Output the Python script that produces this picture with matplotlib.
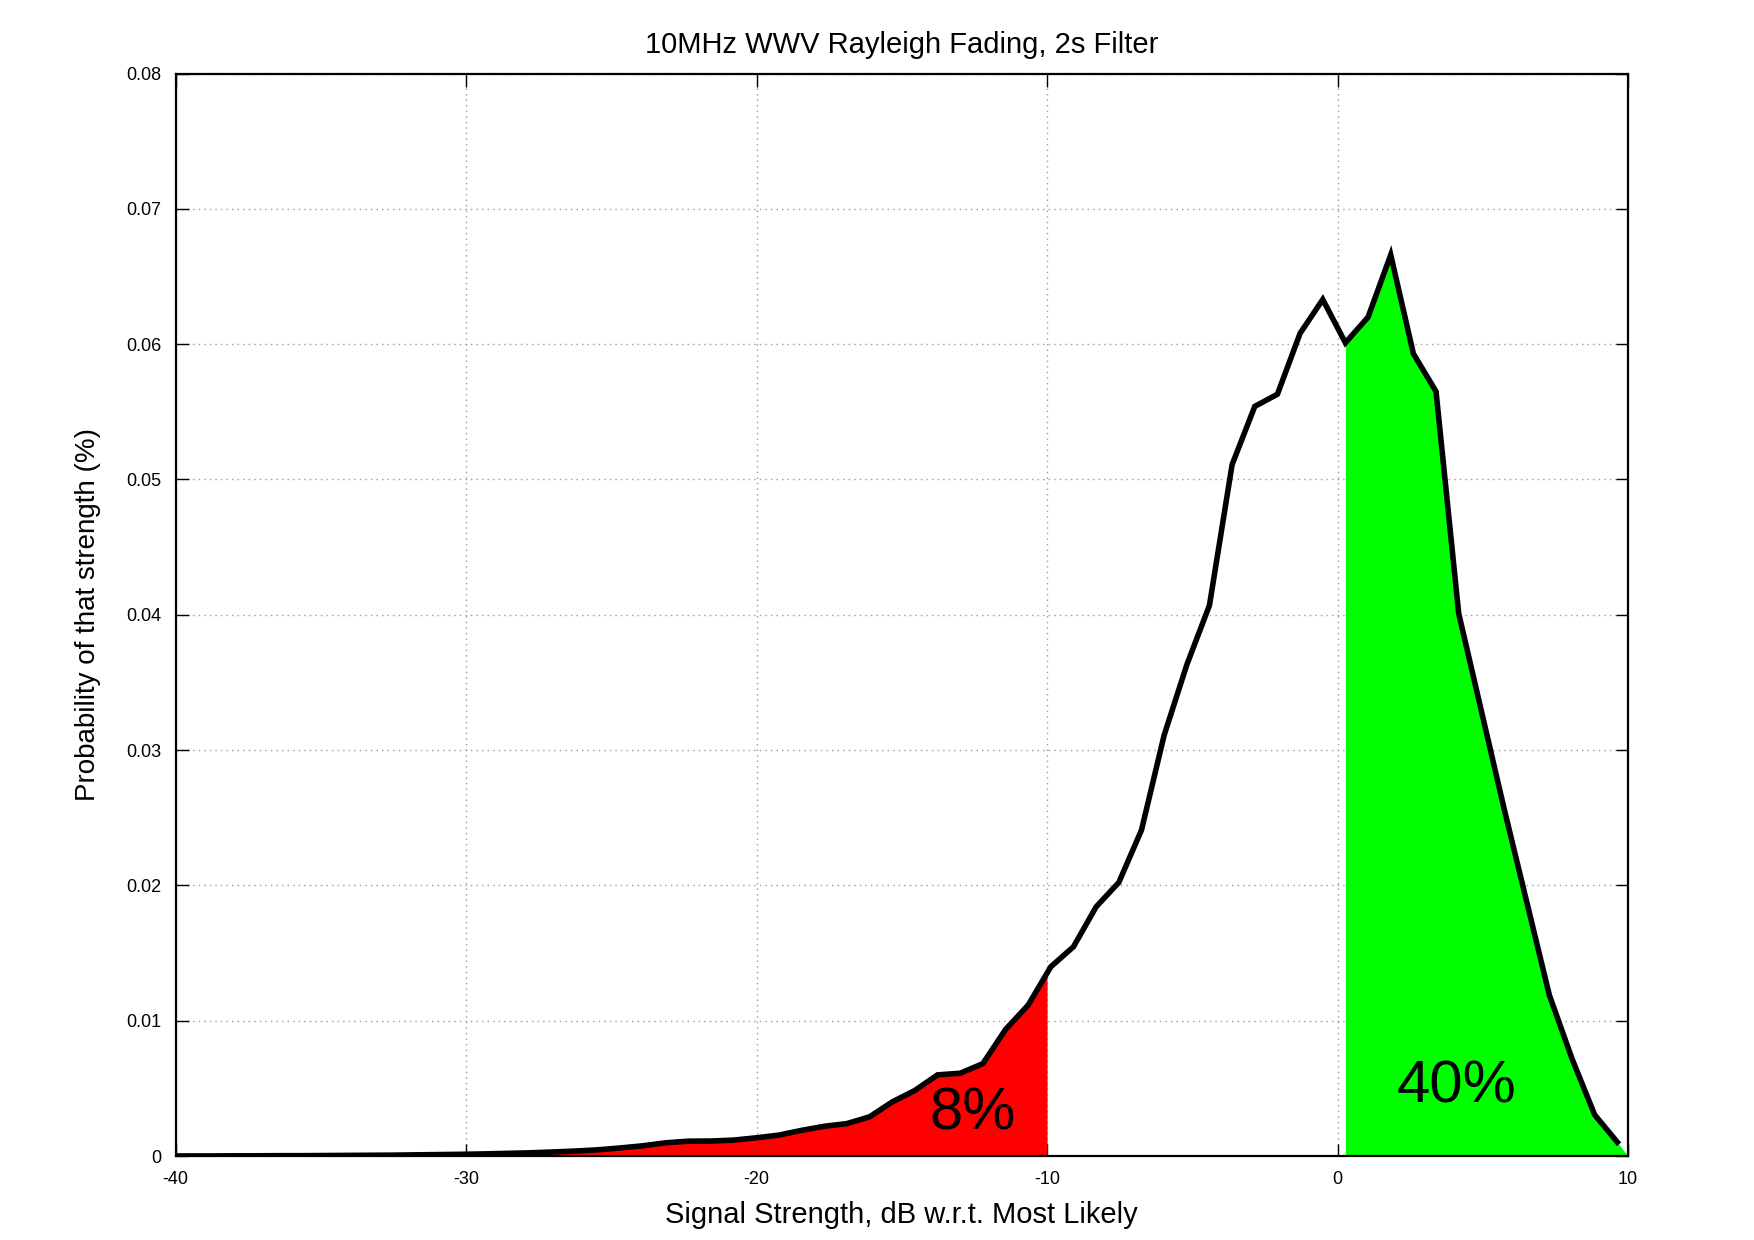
import numpy as np
import matplotlib
matplotlib.use("Agg")
import matplotlib.pyplot as plt

plt.rcParams['font.family'] = ['Liberation Sans', 'DejaVu Sans']

title = "10MHz WWV Rayleigh Fading, 2s Filter"
xlabel = "Signal Strength, dB w.r.t. Most Likely"
ylabel = "Probability of that strength (%)"

signal_db = [-40.29, -39.51, -38.73, -37.95, -37.17, -36.39, -35.61, -34.83, -34.05, -33.27, -32.49,
             -31.71, -30.93, -30.15, -29.37, -28.59, -27.81, -27.03, -26.25, -25.47, -24.69,
             -23.91, -23.13, -22.35, -21.57, -20.79, -20.01, -19.23, -18.45, -17.67, -16.89,
             -16.11, -15.33, -14.55, -13.77, -12.99, -12.21, -11.43, -10.65, -9.87, -9.09,
             -8.31, -7.53, -6.75, -5.97, -5.19, -4.41, -3.63, -2.85, -2.07, -1.29,
             -0.51, 0.27, 1.05, 1.83, 2.61, 3.39, 4.17, 4.95, 5.73, 6.51,
             7.29, 8.07, 8.85, 9.63]
probability = [0.00001, 0.00001, 0.00001, 0.00002, 0.00002, 0.00003, 0.00003, 0.00004, 0.00005, 0.00006, 0.00007,
               0.00009, 0.00011, 0.00013, 0.00016, 0.00020, 0.00024, 0.00030, 0.00037, 0.00046, 0.00060,
               0.00076, 0.00098, 0.00110, 0.00111, 0.00118, 0.00135, 0.00155, 0.00190, 0.00220, 0.00240,
               0.00290, 0.00400, 0.00485, 0.00600, 0.00612, 0.00683, 0.00935, 0.01116, 0.01399, 0.01547,
               0.01842, 0.02022, 0.02409, 0.03110, 0.03630, 0.04070, 0.05110, 0.05540, 0.05630, 0.06080,
               0.06330, 0.06010, 0.06200, 0.06660, 0.05930, 0.05650, 0.04010, 0.03290, 0.02570, 0.01880,
               0.01190, 0.00720, 0.00305, 0.00103]

x_ticks = [-40, -30, -20, -10, 0, 10]
y_ticks = [0, 0.01, 0.02, 0.03, 0.04, 0.05, 0.06, 0.07, 0.08]
y_ticklabels = ["0", "0.01", "0.02", "0.03", "0.04", "0.05", "0.06", "0.07", "0.08"]

low_cut = -10      # red region: below this
high_cut = 0       # green region: above this
low_label = "8%"
high_label = "40%"

XMIN, XMAX = -40, 10
YMIN, YMAX = 0, 0.08

x = np.array(signal_db)
y = np.array(probability)

fig = plt.figure(figsize=(17.54, 12.40), dpi=100)
ax = fig.add_axes([0.1001, 0.0677, 0.9282 - 0.1001, 0.9407 - 0.0677])

# red fill (low tail), interpolated up to the cut
m = x <= low_cut
xr = np.append(x[m], low_cut)
yr = np.append(y[m], np.interp(low_cut, x, y))
ax.fill_between(xr, 0, yr, color='#ff0000', lw=0, zorder=2)

# green fill (above most likely)
m = x >= high_cut
xg = np.append(x[m], XMAX)
yg = np.append(y[m], 0)
ax.fill_between(xg, 0, yg, color='#00ff00', lw=0, zorder=2)

ax.plot(x, y, color='black', lw=4, solid_joinstyle='miter', zorder=3)

ax.text(-12.55, 0.0031, low_label, fontsize=43, ha='center', va='center', zorder=4)
ax.text(4.1, 0.0051, high_label, fontsize=43, ha='center', va='center', zorder=4)

ax.set_xlim(XMIN, XMAX)
ax.set_ylim(YMIN, YMAX)
ax.set_xticks(x_ticks)
ax.set_xticklabels([str(t) for t in x_ticks])
ax.set_yticks(y_ticks)
ax.set_yticklabels(y_ticklabels)
ax.tick_params(direction='in', length=9, width=1, colors='black', labelsize=13,
               top=True, right=True, pad=11)
ax.tick_params(axis='y', pad=10)
ax.grid(True, color='#999999', linestyle=(0, (1, 3)), linewidth=1.0)
ax.set_axisbelow(True)
for s in ax.spines.values():
    s.set_linewidth(1.6)
    s.set_zorder(5)

ax.set_title(title, fontsize=21, pad=15)
ax.set_xlabel(xlabel, fontsize=21, labelpad=9)
ax.set_ylabel(ylabel, fontsize=20, labelpad=18)

fig.savefig("out.png", dpi=100, facecolor='white')
